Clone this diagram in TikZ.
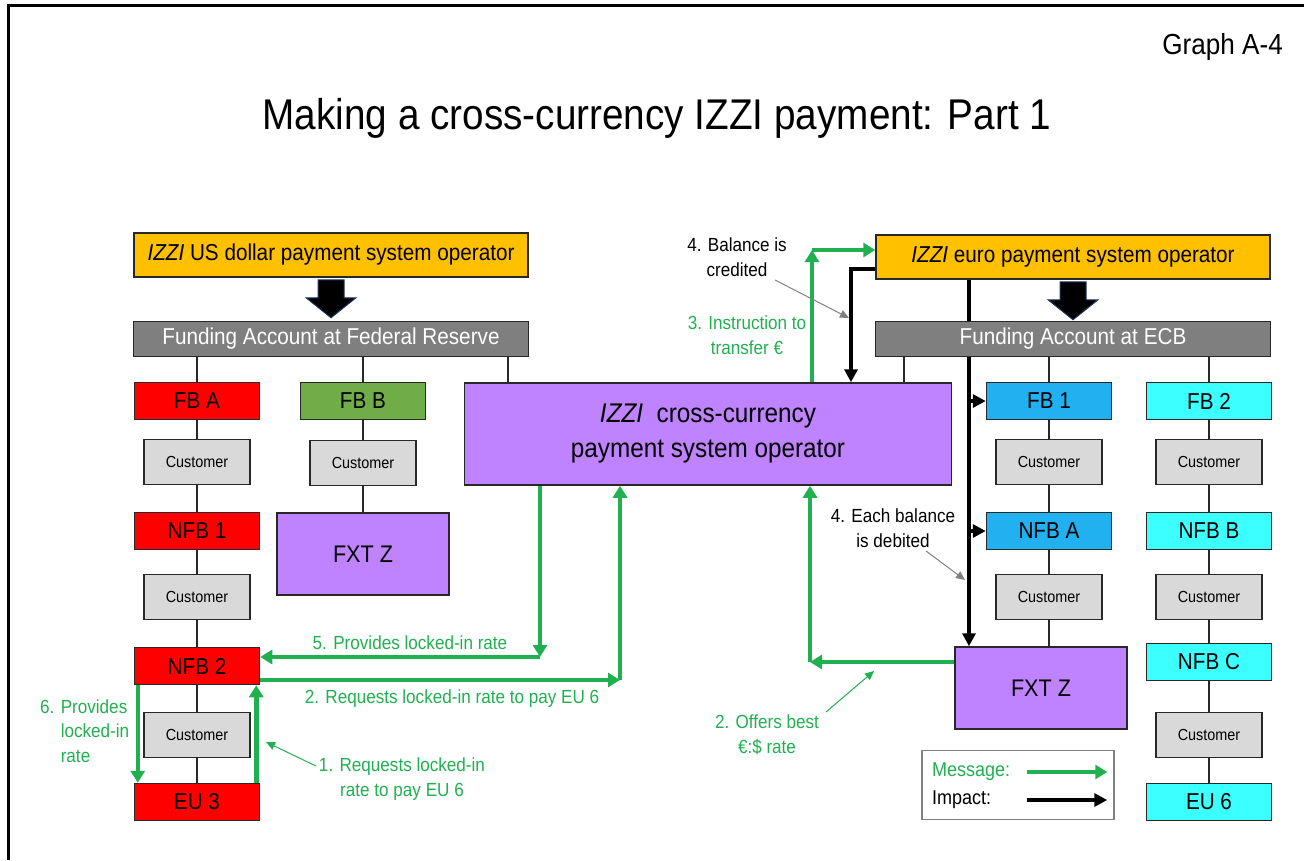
\documentclass[tikz,border=0pt]{standalone}
\usepackage{fontspec}
\setmainfont{Liberation Sans}[FakeStretch=0.9]
\usetikzlibrary{arrows.meta, positioning, calc}

\pgfdeclarelayer{behind}
\pgfsetlayers{behind,main}

\definecolor{opyellow}{RGB}{255,192,0}
\definecolor{fundgray}{RGB}{127,127,127}
\definecolor{custgray}{RGB}{217,217,217}
\definecolor{bankred}{RGB}{255,0,0}
\definecolor{bankgreen}{RGB}{112,173,71}
\definecolor{bankblue}{RGB}{33,176,240}
\definecolor{bankcyan}{RGB}{60,255,255}
\definecolor{fxpurple}{RGB}{191,131,255}
\definecolor{msggreen}{RGB}{32,176,80}
\definecolor{edgegray}{RGB}{40,40,40}
\definecolor{arrnavy}{RGB}{31,56,100}

\newcommand{\fsz}[2]{\fontsize{#1}{#2}\selectfont}

\begin{document}
\begin{tikzpicture}[
    x=1pt, y=-1pt,
    box/.style={draw=edgegray, line width=1.5pt, inner sep=0pt},
    oper/.style={box, fill=opyellow, minimum width=394pt, minimum height=44pt, font=\fsz{23}{27}},
    fund/.style={box, fill=fundgray, text=white, minimum width=395pt, minimum height=35pt, font=\fsz{23}{27}},
    bank/.style={box, minimum width=125pt, minimum height=37pt, font=\fsz{23}{27}},
    cust/.style={box, fill=custgray, minimum width=106pt, minimum height=45pt, font=\fsz{16}{19}},
    fxt/.style={box, fill=fxpurple, minimum width=172pt, minimum height=82pt, font=\fsz{24}{28}},
    tie/.style={edgegray, line width=1.5pt},
    msg/.style={msggreen, line width=4.5pt, -{Triangle[length=12pt,width=14pt]}},
    imp/.style={black, line width=4pt, -{Triangle[length=13pt,width=13pt]}},
    pointer/.style={line width=1pt, -{Triangle[length=9pt,width=8pt]}},
    msgtxt/.style={text=msggreen, font=\fsz{19}{24.5}, inner sep=0pt},
    imptxt/.style={text=black, font=\fsz{19}{24.5}, inner sep=0pt},
    blockarr/.style={fill=black, draw=arrnavy, line width=1pt}
]

% -------- Page frame --------
\useasboundingbox (0,0) rectangle (1304,860);
\draw[line width=3pt] (8,860) -- (8,5) -- (1304,5);

% -------- Column / row positions --------
\def\colA{197}
\def\colB{363}
\def\colC{1049}
\def\colD{1209}
\def\rowA{401}

% -------- Headings --------
\node[font=\fsz{29}{34}, anchor=east, inner sep=0pt] (graphno) at (1283,47) {Graph A-4};
\node[font=\fsz{43}{50}, inner sep=0pt] (title) at (657,118) {Making a cross-currency IZZI payment: Part 1};

% -------- Operators and funding accounts --------
\node[oper] (usdop) at (331,255) {\textit{IZZI} US dollar payment system operator};
\node[fund] (fed) at (331,339) {Funding Account at Federal Reserve};
\node[oper] (europ) at (1073,257) {\textit{IZZI} euro payment system operator};
\node[fund] (ecb) at (1073,339) {Funding Account at ECB};

% block arrows operator -> funding account
\foreach \op in {usdop,europ} {
    \draw[blockarr, shift={(\op.south)}] (-13,2) -- (13,2) -- (13,20) -- (25,20)
        -- (0,40) -- (-25,20) -- (-13,20) -- cycle;
}

% -------- Cross-currency operator --------
\node[box, fill=fxpurple, minimum width=487pt, minimum height=102pt, font=\fsz{27}{35}, align=center]
    (xop) at (708,434) {\textit{IZZI}\ \ cross-currency\\payment system operator};

% -------- Left (US dollar) banks --------
\node[bank, fill=bankred] (fbA) at (\colA,\rowA) {FB A};
\node[cust] (custA1) at (\colA,462) {Customer};
\node[bank, fill=bankred] (nfb1) at (\colA,531) {NFB 1};
\node[cust] (custA2) at (\colA,597) {Customer};
\node[bank, fill=bankred] (nfb2) at (\colA,666) {NFB 2};
\node[cust] (custA3) at (\colA,735) {Customer};
\node[bank, fill=bankred] (eu3) at (\colA,802) {EU 3};

\node[bank, fill=bankgreen] (fbB) at (\colB,\rowA) {FB B};
\node[cust] (custB1) at (\colB,463) {Customer};
\node[fxt] (fxtL) at (\colB,554) {FXT Z};

% -------- Right (euro) banks --------
\node[bank, fill=bankblue] (fb1) at (\colC,\rowA) {FB 1};
\node[cust] (custC1) at (\colC,462) {Customer};
\node[bank, fill=bankblue] (nfbA) at (\colC,531) {NFB A};
\node[cust] (custC2) at (\colC,597) {Customer};
\node[fxt] (fxtR) at (1041,688) {FXT Z};

\node[bank, fill=bankcyan] (fb2) at (\colD,\rowA) {FB 2};
\node[cust] (custD1) at (\colD,462) {Customer};
\node[bank, fill=bankcyan] (nfbB) at (\colD,531) {NFB B};
\node[cust] (custD2) at (\colD,597) {Customer};
\node[bank, fill=bankcyan] (nfbC) at (\colD,662) {NFB C};
\node[cust] (custD3) at (\colD,735) {Customer};
\node[bank, fill=bankcyan] (eu6) at (\colD,802) {EU 6};

% -------- Account ties --------
\coordinate (fedtap) at (508,356);
\coordinate (ecbtap) at (904,357);
\foreach \b in {fbA,fbB} {
    \draw[tie] (fed.south -| \b) -- (\b.north);
}
\foreach \b in {fb1,fb2} {
    \draw[tie] (ecb.south -| \b) -- (\b.north);
}
\draw[tie] (fedtap) -- (fedtap |- xop.north);
\draw[tie] (ecbtap) -- (ecbtap |- xop.north);

\foreach \a/\b in {fbA/custA1,custA1/nfb1,nfb1/custA2,custA2/nfb2,nfb2/custA3,custA3/eu3,
                   fbB/custB1,custB1/fxtL,
                   fb1/custC1,custC1/nfbA,nfbA/custC2,
                   fb2/custD1,custD1/nfbB,nfbB/custD2,custD2/nfbC,nfbC/custD3,custD3/eu6} {
    \draw[tie] (\a.south) -- (\b.north);
}
\draw[tie] (custC2.south) -- (custC2.south |- fxtR.north);

% -------- Impact (black) --------
\coordinate (credit) at (851,269);
\coordinate (debit) at (969,280);
\draw[imp] (credit -| europ.west) -- (credit) -- (credit |- xop.north);
% debit line runs behind the ECB account box
\begin{pgfonlayer}{behind}
\draw[imp] (debit) -- (debit |- fxtR.north);
\end{pgfonlayer}
\draw[imp] (debit |- fb1.west) -- (fb1.west);
\draw[imp] (debit |- nfbA.west) -- (nfbA.west);

% -------- Messages (green) --------
\coordinate (instr) at (812,250);
\coordinate (rate5) at (540,657);
\coordinate (req2) at (620,680);
\coordinate (offer) at (810,662);

\draw[msg] (instr |- xop.north) -- (instr);
\draw[msg] (instr) -- (instr -| europ.west);

\draw[msg] (xop.south -| rate5) -- (rate5);
\draw[msg] (rate5) -- (rate5 -| nfb2.east);

\draw[msg] (req2 -| nfb2.east) -- (req2);
\draw[msg] (req2) -- (req2 |- xop.south);

\draw[msg] (offer -| fxtR.west) -- (offer);
\draw[msg] (offer) -- (offer |- xop.south);

\draw[msg] ([xshift=4pt]nfb2.south west) -- ([xshift=4pt]eu3.north west);
\draw[msg] ([xshift=-4pt]eu3.north east) -- ([xshift=-4pt]nfb2.south east);

% -------- Step labels --------
\node[msgtxt] (lbl5) at (410,643) {5. Provides locked-in rate};
\node[msgtxt] (lbl2) at (452,699) {2. Requests locked-in rate to pay EU 6};
\node[msgtxt, align=left, anchor=west] (lbl6) at (40,731) {6. Provides\\\phantom{6. }locked-in\\\phantom{6. }rate};
\node[msgtxt, align=center] (lbl1) at (402,779) {1. Requests locked-in\\rate to pay EU 6};
\node[msgtxt, align=center] (lbl2b) at (767,735) {2. Offers best\\€:\$ rate};
\node[msgtxt, align=center] (lbl3) at (747,335) {3. Instruction to\\transfer €};
\node[imptxt, align=center] (lbl4a) at (737,257) {4. Balance is\\credited};
\node[imptxt, align=center] (lbl4b) at (893,528) {4. Each balance\\is debited};

% pointers
\coordinate (p1) at (266,742);
\coordinate (p2) at (874,671);
\coordinate (p4a) at (849,318);
\coordinate (p4b) at (965,580);
\draw[pointer, msggreen] (316,766) -- (p1);
\draw[pointer, msggreen] (826,712) -- (p2);
\draw[pointer, gray] (775,280) -- (p4a);
\draw[pointer, gray] (926,551) -- (p4b);

% -------- Legend --------
\node[draw=gray, line width=1.5pt, fill=white, minimum width=192pt, minimum height=69pt] (legend) at (1018,785) {};
\node[msgtxt, font=\fsz{20}{24}, anchor=west] (legmsg) at (932,772) {Message:};
\node[imptxt, font=\fsz{20}{24}, anchor=west] (legimp) at (932,800) {Impact:};
\draw[msg, line width=3.5pt] ([shift={(106,-13)}]legend.west) -- ([shift={(186,-13)}]legend.west);
\draw[imp, line width=3.5pt] ([shift={(106,15)}]legend.west) -- ([shift={(186,15)}]legend.west);

\end{tikzpicture}
\end{document}
